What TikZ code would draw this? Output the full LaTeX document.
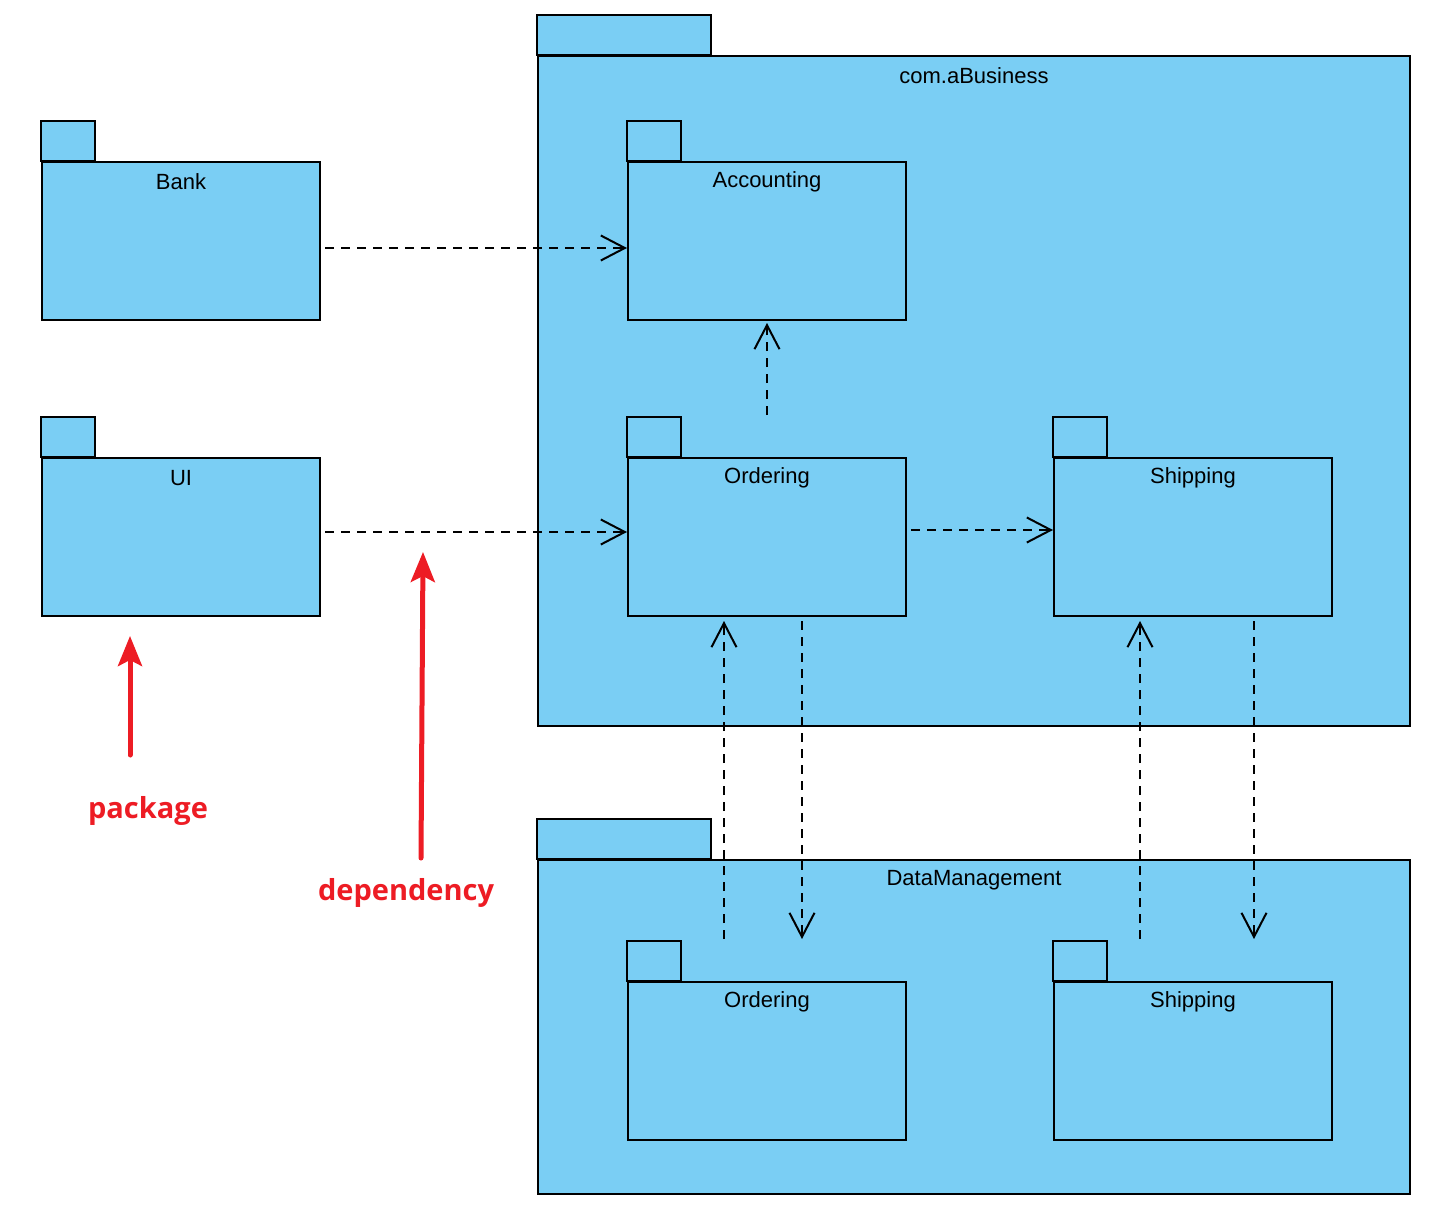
\documentclass[tikz,border=0pt]{standalone}
\usepackage{fontspec}
\setmainfont{Liberation Sans}
\newfontfamily\notefont{Open Sans}
\usetikzlibrary{arrows.meta}
\definecolor{pkgblue}{RGB}{122,206,244}
\definecolor{notered}{RGB}{237,28,36}

\begin{document}
\begin{tikzpicture}[x=0.5pt, y=-0.5pt,
	pkg/.style={draw, fill=pkgblue, line width=1pt, inner sep=0pt, minimum width=139pt, minimum height=79pt},
	tab/.style={draw, fill=pkgblue, line width=1pt},
	pkgname/.style={font=\fontsize{11}{13}\selectfont},
	dep/.style={line width=1pt, dash pattern=on 4.5pt off 3.5pt, -{Straight Barb[length=12pt, width=12.5pt]}},
	note/.style={line width=2.5pt, notered, line cap=round, -{Stealth[length=15pt, width=12pt, inset=3pt]}},
	notelabel/.style={text=notered, font=\notefont\bfseries\fontsize{14.5}{17}\selectfont}]
	\useasboundingbox (0, 0) rectangle (1442, 1215);

	\node [pkg, minimum width=436pt, minimum height=335pt] (biz) at (974, 391) {};
	\draw [tab] (biz.north west) rectangle ++(87pt, 20pt);
	\node [pkgname] (biz-name) at ([yshift=-10.5pt]biz.north) {com.aBusiness};

	\node [pkg, minimum width=436pt, minimum height=167pt] (data) at (974, 1027) {};
	\draw [tab] (data.north west) rectangle ++(87pt, 20pt);
	\node [pkgname] (data-name) at ([yshift=-10.5pt]data.north) {DataManagement};

	\foreach \n/\x/\y/\t in {bank/181/241/Bank, ui/181/537/UI, acc/767/241/Accounting,
		ord/767/537/Ordering, ship/1193/537/Shipping, dmord/767/1061/Ordering, dmship/1193/1061/Shipping} {
		\node [pkg] (\n) at (\x, \y) {};
		\draw [tab] (\n.north west) rectangle ++(27pt, 20pt);
		\node [pkgname] (\n-name) at ([yshift=-10.5pt]\n.north) {\t};
	}

	\draw [dep, shorten <=2pt] ([yshift=-3.5pt]bank.east) -- ([yshift=-3.5pt]acc.west);
	\draw [dep, shorten <=2pt] ([yshift=2.5pt]ui.east) -- ([yshift=2.5pt]ord.west);
	\draw [dep, shorten >=1pt] ([yshift=21pt]ord.north) -- (acc.south);
	\draw [dep, shorten <=2pt] ([yshift=3.5pt]ord.east) -- ([yshift=3.5pt]ship.west);
	\draw [dep, shorten >=2pt] ([xshift=-21.5pt, yshift=21pt]dmord.north) -- ([xshift=-21.5pt]ord.south);
	\draw [dep, shorten <=2pt] ([xshift=17.5pt]ord.south) -- ([xshift=17.5pt, yshift=21pt]dmord.north);
	\draw [dep, shorten >=2pt] ([xshift=-26.5pt, yshift=21pt]dmship.north) -- ([xshift=-26.5pt]ship.south);
	\draw [dep, shorten <=2pt] ([xshift=30.5pt]ship.south) -- ([xshift=30.5pt, yshift=21pt]dmship.north);

	\node [notelabel] (pkg-note) at (148, 811) {package};
	\node [notelabel] (dep-note) at (406, 893) {dependency};
	\coordinate (pkg-tail) at (130, 755);
	\coordinate (pkg-tip) at (130, 636);
	\coordinate (dep-tail) at (421, 858);
	\coordinate (dep-tip) at (423, 552);
	\draw [note] (pkg-tail) -- (pkg-tip);
	\draw [note] (dep-tail) -- (dep-tip);
\end{tikzpicture}
\end{document}
